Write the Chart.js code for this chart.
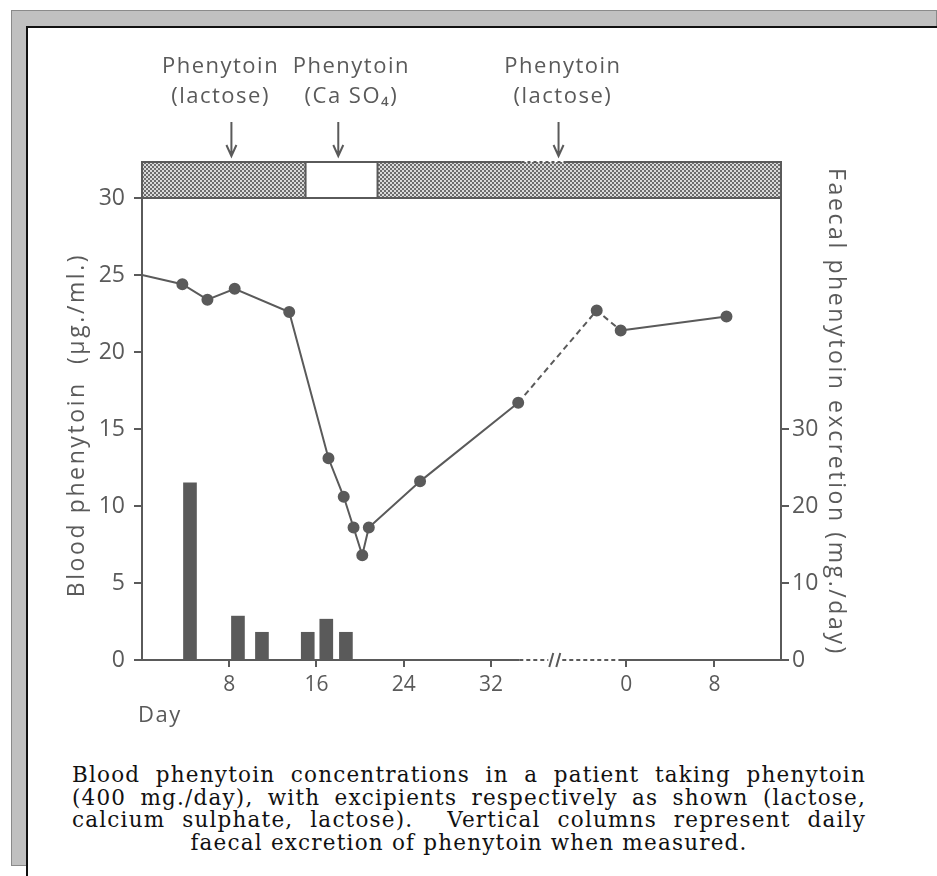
<!DOCTYPE html>
<html>
<head>
<meta charset="utf-8">
<script src="https://cdn.jsdelivr.net/npm/chart.js@4.4.1/dist/chart.umd.min.js"></script>
<style>
  html, body { margin: 0; padding: 0; width: 937px; height: 876px; overflow: hidden; background: #fff; }
  #frame { position: absolute; left: 11px; top: 10px; width: 924px; height: 854px; background: #c0c0c0; border: 1px solid #8a8a8a; }
  #panel { position: absolute; left: 26px; top: 26px; width: 930px; height: 870px; background: #fff; border-left: 2px solid #111; border-top: 2px solid #111; }
  #chart { position: absolute; left: 0; top: 0; }
  #caption { position: absolute; left: 72px; top: 764px; width: 794px; font-family: "DejaVu Serif", serif; font-size: 21.5px; letter-spacing: 1.2px; line-height: 22.5px; color: #111; }
  .j { text-align: justify; text-align-last: justify; }
  .c { text-align: center; }
</style>
</head>
<body>
<div id="frame"></div>
<div id="panel"></div>
<canvas id="chart" width="937" height="740"></canvas>
<div id="caption">
  <div class="j">Blood phenytoin concentrations in a patient taking phenytoin</div>
  <div class="j">(400 mg./day), with excipients respectively as shown (lactose,</div>
  <div class="j">calcium sulphate, lactose).&nbsp; Vertical columns represent daily</div>
  <div class="c">faecal excretion of phenytoin when measured.</div>
</div>
<script>
// blood phenytoin (left axis), day position on a continuous scale
const bloodDays = [0, 3.7, 6.0, 8.5, 13.5, 17.1, 18.5, 19.4, 20.2, 20.8, 25.5, 34.5, 41.7, 43.9, 53.6]
const bloodLevels = [25, 24.4, 23.4, 24.1, 22.6, 13.1, 10.6, 8.6, 6.8, 8.6, 11.6, 16.7, 22.7, 21.4, 22.3]
// faecal excretion columns (right axis)
const faecalDays = [4.4, 8.8, 11.0, 15.2, 16.9, 18.7]
const faecalExcretion = [23, 5.7, 3.6, 3.6, 5.3, 3.6]
// x ticks: two periods, the second restarts at 0
const xTickDays = [8, 16, 24, 32, 44.4, 52.5]
const xTickLabels = ['8', '16', '24', '32', '0', '8']
const rightTicks = [0, 10, 20, 30]
// excipient periods shown in the bar above the plot
const phaseStart = [0, 15.0, 21.6]
const phaseEnd = [15.0, 21.6, 58.6]
const phaseHatched = [true, false, true]
// arrows and labels above the bar
const doseDays = [8.2, 18.0, 38.2]
const doseLabelDays = [7.2, 19.2, 38.6]
const doseLabels = [['Phenytoin', '(lactose)'], ['Phenytoin', '(Ca SO₄)'], ['Phenytoin', '(lactose)']]
// interval with no measurements (dashed line, broken axis)
const gapDays = [34.5, 43.9]
const axisBreak = [34.6, 43.7]
const bandBreak = [34.8, 38.8]
const breakMark = 37.9

const ink = '#5a5a5a'
const figFont = '"Open Sans", "DejaVu Sans", sans-serif'

function makeHatch() {
    let c = document.createElement('canvas')
    c.width = 4
    c.height = 4
    let g = c.getContext('2d')
    g.fillStyle = '#6c6c6c'
    g.fillRect(0, 0, 4, 4)
    g.fillStyle = '#dadada'
    g.fillRect(0, 0, 2, 2)
    g.fillRect(2, 2, 2, 2)
    return g.createPattern(c, 'repeat')
}

const figurePlugin = {
    id: 'figure',
    afterDatasetsDraw(chart) {
        const ctx = chart.ctx
        const a = chart.chartArea
        const x = chart.scales.x
        const bandTop = a.top - 36
        ctx.save()

        // excipient bar
        const hatch = makeHatch()
        phaseStart.forEach((s, i) => {
            if (!phaseHatched[i]) return
            let x0 = x.getPixelForValue(s)
            let x1 = x.getPixelForValue(phaseEnd[i])
            ctx.fillStyle = hatch
            ctx.fillRect(x0, bandTop, x1 - x0, a.top - bandTop)
        })
        ctx.strokeStyle = ink
        ctx.lineWidth = 2
        let b0 = x.getPixelForValue(bandBreak[0])
        let b1 = x.getPixelForValue(bandBreak[1])
        ctx.beginPath()
        ctx.moveTo(b0, bandTop)
        ctx.lineTo(a.left, bandTop)
        ctx.lineTo(a.left, a.top)
        ctx.lineTo(a.right, a.top)
        ctx.lineTo(a.right, bandTop)
        ctx.lineTo(b1, bandTop)
        ctx.stroke()
        ctx.setLineDash([3, 3])
        ctx.beginPath()
        ctx.moveTo(b0, bandTop)
        ctx.lineTo(b1, bandTop)
        ctx.stroke()
        ctx.setLineDash([])
        phaseStart.slice(1).forEach(s => {
            let px = x.getPixelForValue(s)
            ctx.beginPath()
            ctx.moveTo(px, bandTop)
            ctx.lineTo(px, a.top)
            ctx.stroke()
        })

        // plot frame: left, right, bottom (with break)
        ctx.beginPath()
        ctx.moveTo(a.left, bandTop)
        ctx.lineTo(a.left, a.bottom)
        ctx.moveTo(a.right, bandTop)
        ctx.lineTo(a.right, a.bottom)
        ctx.moveTo(a.left, a.bottom)
        ctx.lineTo(x.getPixelForValue(axisBreak[0]), a.bottom)
        ctx.moveTo(x.getPixelForValue(axisBreak[1]), a.bottom)
        ctx.lineTo(a.right, a.bottom)
        ctx.stroke()
        let bm = x.getPixelForValue(breakMark)
        ctx.setLineDash([4, 3])
        ctx.beginPath()
        ctx.moveTo(x.getPixelForValue(axisBreak[0]), a.bottom)
        ctx.lineTo(bm - 7, a.bottom)
        ctx.moveTo(bm + 7, a.bottom)
        ctx.lineTo(x.getPixelForValue(axisBreak[1]), a.bottom)
        ctx.stroke()
        ctx.setLineDash([])
        ctx.beginPath()
        ctx.moveTo(bm - 6, a.bottom + 7)
        ctx.lineTo(bm - 2, a.bottom - 7)
        ctx.moveTo(bm + 1, a.bottom + 7)
        ctx.lineTo(bm + 5, a.bottom - 7)
        ctx.stroke()

        // arrows and labels
        ctx.fillStyle = ink
        ctx.font = '22px ' + figFont
        ctx.letterSpacing = '1.5px'
        ctx.textAlign = 'center'
        ctx.textBaseline = 'middle'
        doseDays.forEach((d, i) => {
            let px = x.getPixelForValue(d)
            ctx.beginPath()
            ctx.moveTo(px, 122)
            ctx.lineTo(px, 156)
            ctx.moveTo(px - 5, 145)
            ctx.lineTo(px, 156)
            ctx.lineTo(px + 5, 145)
            ctx.stroke()
            let lx = x.getPixelForValue(doseLabelDays[i])
            ctx.fillText(doseLabels[i][0], lx, 67)
            ctx.fillText(doseLabels[i][1], lx, 97)
        })

        ctx.textAlign = 'left'
        ctx.fillText('Day', 138, 716)

        // axis titles
        ctx.font = '23px ' + figFont
        ctx.letterSpacing = '2.6px'
        ctx.textAlign = 'center'
        ctx.save()
        ctx.translate(77, 425)
        ctx.rotate(-Math.PI / 2)
        ctx.fillText('Blood phenytoin  (µg./ml.)', 0, 0)
        ctx.restore()
        ctx.save()
        ctx.translate(836, 412)
        ctx.rotate(Math.PI / 2)
        ctx.fillText('Faecal phenytoin excretion (mg./day)', 0, 0)
        ctx.restore()
        ctx.restore()
    }
}

let ctx = document.getElementById('chart')
let chart = new Chart(ctx, {
    type: 'line',
    data: {
        datasets: [{
            type: 'line',
            data: bloodDays.map((d, i) => ({ x: d, y: bloodLevels[i] })),
            yAxisID: 'y',
            borderColor: ink,
            borderWidth: 2,
            pointBackgroundColor: ink,
            pointBorderColor: ink,
            pointRadius: c => c.dataIndex === 0 ? 0 : 5,
            tension: 0,
            order: 0,
            segment: {
                borderDash: c => (c.p0.parsed.x >= gapDays[0] - 0.01 && c.p1.parsed.x <= gapDays[1] + 0.01) ? [6, 4] : undefined
            }
        }, {
            type: 'bar',
            data: faecalDays.map((d, i) => ({ x: d, y: faecalExcretion[i] })),
            yAxisID: 'y2',
            backgroundColor: ink,
            barThickness: 13,
            order: 1
        }]
    },
    options: {
        responsive: false,
        animation: false,
        events: [],
        layout: { padding: { top: 198, left: 0, right: 0, bottom: 0 } },
        plugins: { legend: { display: false }, tooltip: { enabled: false } },
        scales: {
            x: {
                type: 'linear',
                min: 0,
                max: 58.6,
                offset: false,
                afterBuildTicks: s => { s.ticks = xTickDays.map(v => ({ value: v })) },
                afterFit: s => { s.height = 80 },
                ticks: {
                    callback: (v, i) => xTickLabels[i],
                    color: ink,
                    font: { family: figFont, size: 21 },
                    padding: 5,
                    maxRotation: 0,
                    autoSkip: false
                },
                grid: { drawOnChartArea: false, offset: false, tickLength: 7, color: ink, lineWidth: 2 },
                border: { display: false }
            },
            y: {
                position: 'left',
                min: 0,
                max: 30,
                ticks: { stepSize: 5, color: ink, font: { family: figFont, size: 23 }, padding: 9 },
                afterFit: s => { s.width = 142 },
                grid: { drawOnChartArea: false, tickLength: 8, color: ink, lineWidth: 2 },
                border: { display: false }
            },
            y2: {
                position: 'right',
                min: 0,
                max: 60,
                afterBuildTicks: s => { s.ticks = rightTicks.map(v => ({ value: v })) },
                afterFit: s => { s.width = 156 },
                ticks: { color: ink, font: { family: figFont, size: 23 }, padding: 3 },
                grid: { drawOnChartArea: false, tickLength: 8, color: ink, lineWidth: 2 },
                border: { display: false }
            }
        }
    },
    plugins: [figurePlugin]
})
</script>
</body>
</html>
